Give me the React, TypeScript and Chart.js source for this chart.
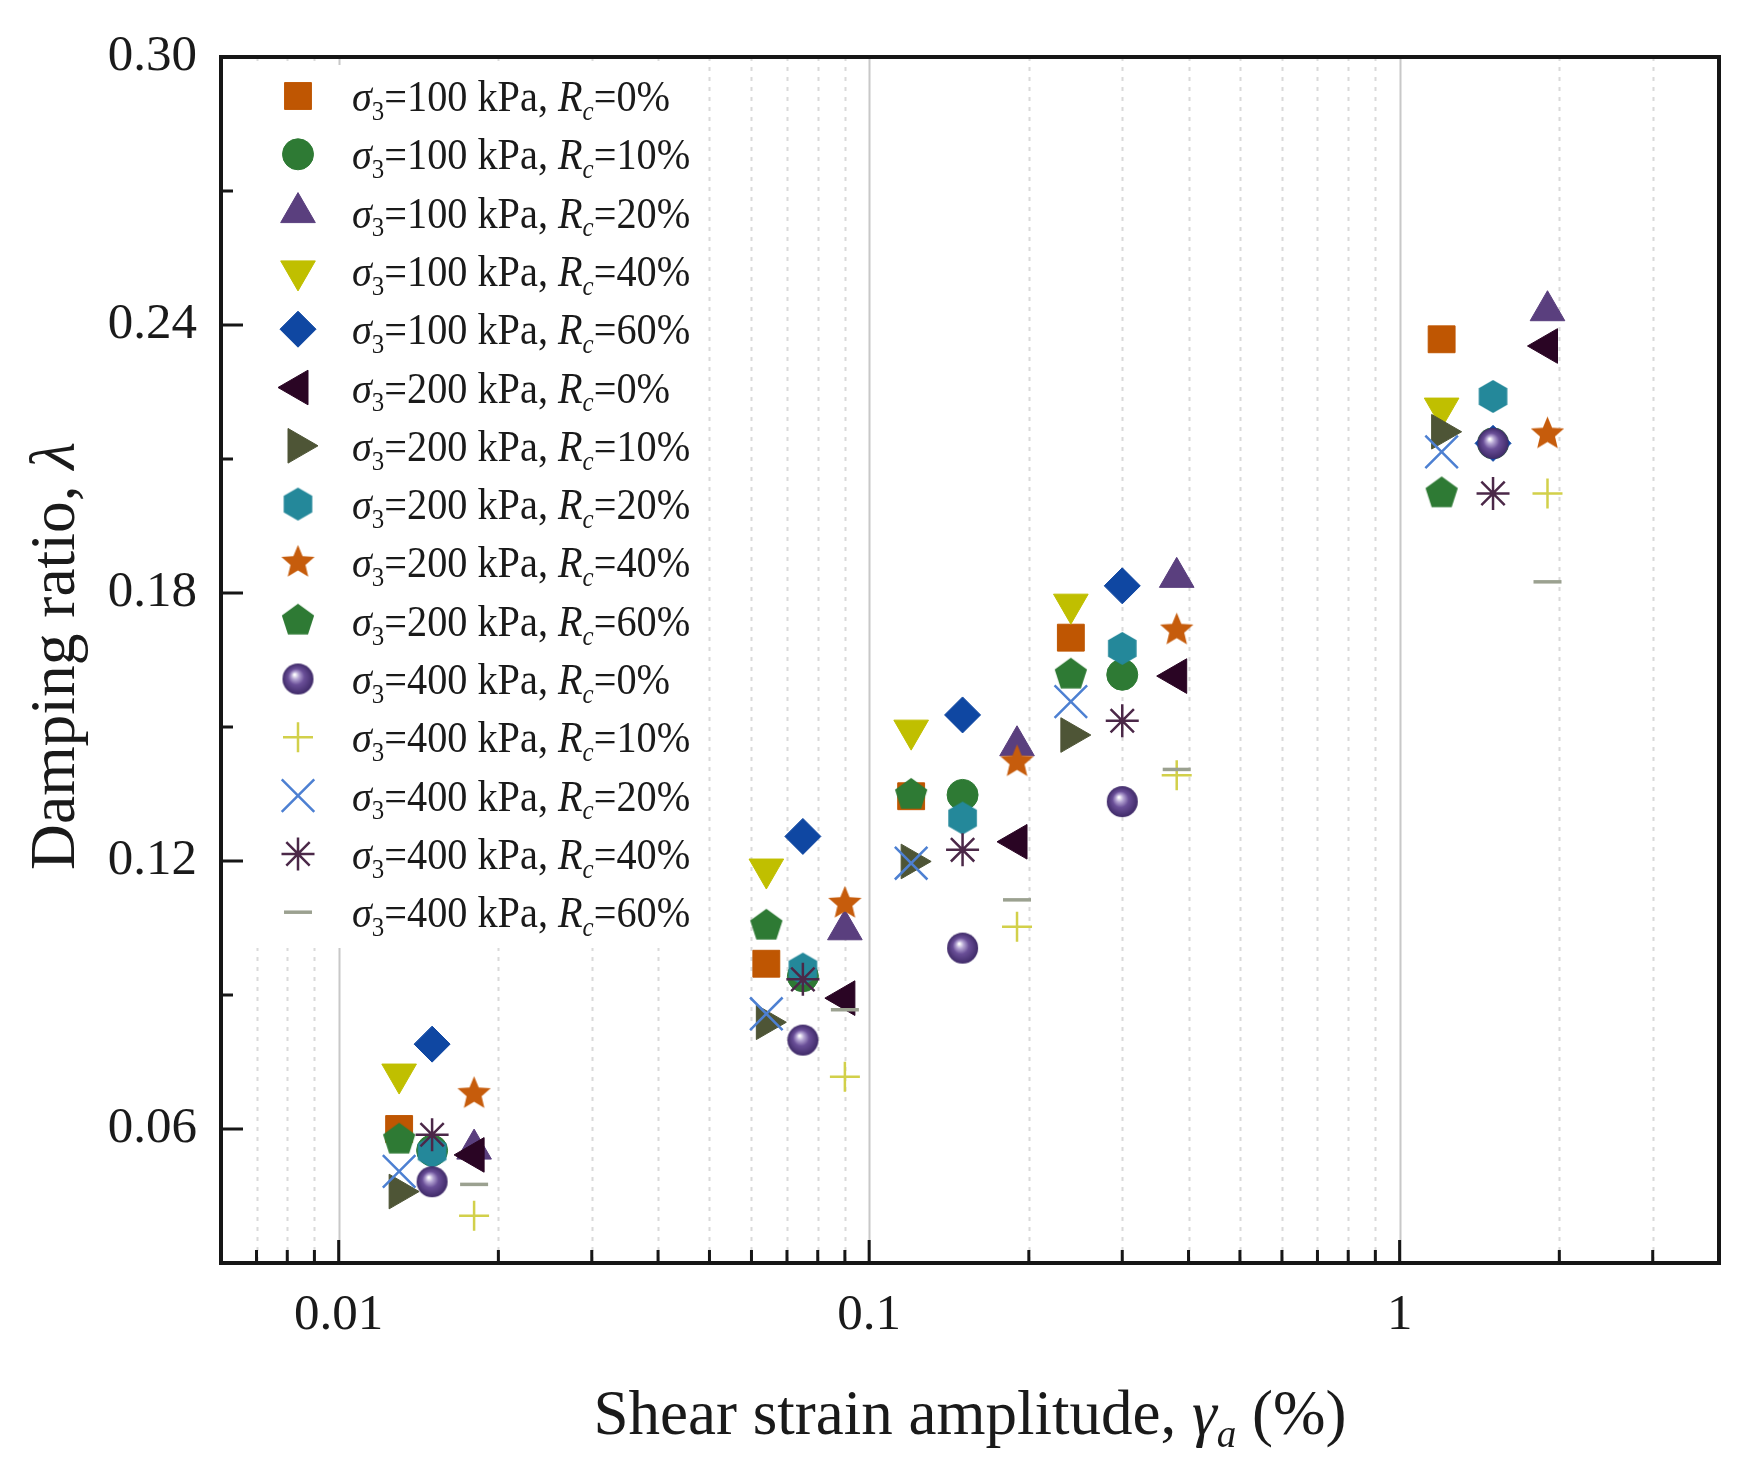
import React, { useEffect, useRef } from 'react';
import { Chart, registerables } from 'chart.js';
import { drawPoint } from 'chart.js/helpers';

Chart.register(...registerables);

const SERIF = '"Liberation Serif", "Times New Roman", serif';

// ---- data (shear strain amplitude, %) ----
const strainColA = [0.013, 0.064, 0.12, 0.24, 1.2];
const strainColB = [0.015, 0.075, 0.15, 0.30, 1.5];
const strainColC = [0.018, 0.090, 0.19, 0.38, 1.9];

// ---- damping ratio per series ----
const damp100_0 = [0.0600, 0.0970, 0.1345, 0.1700, 0.2368];
const damp100_10 = [0.0552, 0.0942, 0.1348, 0.1617, 0.2135];
const damp100_20 = [0.0555, 0.1046, 0.1458, 0.1835, 0.2432];
const damp100_40 = [0.0723, 0.1182, 0.1493, 0.1775, 0.2214];
const damp100_60 = [0.0790, 0.1255, 0.1527, 0.1816, 0.2135];
const damp200_0 = [0.0542, 0.0893, 0.1243, 0.1614, 0.2353];
const damp200_10 = [0.0460, 0.0839, 0.1199, 0.1482, 0.2161];
const damp200_20 = [0.0549, 0.0958, 0.1296, 0.1676, 0.2240];
const damp200_40 = [0.0679, 0.1105, 0.1422, 0.1717, 0.2156];
const damp200_60 = [0.0576, 0.1055, 0.1348, 0.1617, 0.2023];
const damp400_0 = [0.0482, 0.0799, 0.1005, 0.1333, 0.2135];
const damp400_10 = [0.0406, 0.0717, 0.1053, 0.1392, 0.2023];
const damp400_20 = [0.0505, 0.0858, 0.1195, 0.1557, 0.2116];
const damp400_40 = [0.0587, 0.0935, 0.1225, 0.1514, 0.2023];
const damp400_60 = [0.0476, 0.0867, 0.1113, 0.1405, 0.1825];

const sigmaLabels = [100, 100, 100, 100, 100, 200, 200, 200, 200, 200, 400, 400, 400, 400, 400];
const rcLabels = [0, 10, 20, 40, 60, 0, 10, 20, 40, 60, 0, 10, 20, 40, 60];
const seriesStrain = [
  strainColA, strainColB, strainColC, strainColA, strainColB,
  strainColC, strainColA, strainColB, strainColC, strainColA,
  strainColB, strainColC, strainColA, strainColB, strainColC,
];
const seriesDamping = [
  damp100_0, damp100_10, damp100_20, damp100_40, damp100_60,
  damp200_0, damp200_10, damp200_20, damp200_40, damp200_60,
  damp400_0, damp400_10, damp400_20, damp400_40, damp400_60,
];

// ---- axes ----
const xMajorTicks = [0.01, 0.1, 1];
const xMajorLabels = ['0.01', '0.1', '1'];
const xMinorTicks = [0.007, 0.008, 0.009, 0.02, 0.03, 0.04, 0.05, 0.06, 0.07, 0.08, 0.09,
  0.2, 0.3, 0.4, 0.5, 0.6, 0.7, 0.8, 0.9, 2, 3];
const yMajorTicks = [0.06, 0.12, 0.18, 0.24, 0.30];
const yMinorTicks = [0.09, 0.15, 0.21, 0.27];

// ---- marker styles (index-aligned with series) ----
type Marker = { kind: string; color: string; r: number; rot?: number; bw: number };
const markerStyles: Marker[] = [
  { kind: 'rect', color: '#BF5602', r: 19, bw: 1 },
  { kind: 'circle', color: '#2E7A34', r: 15.5, bw: 1 },
  { kind: 'triangle', color: '#5A3F7E', r: 20, bw: 1 },
  { kind: 'triangle', color: '#C0BF00', r: 20, rot: 180, bw: 1 },
  { kind: 'rectRot', color: '#0F47A2', r: 18, bw: 1 },
  { kind: 'triangle', color: '#2A0524', r: 20, rot: 270, bw: 1 },
  { kind: 'triangle', color: '#4E5536', r: 20, rot: 90, bw: 1 },
  { kind: 'hexagon', color: '#24889A', r: 16.5, bw: 0 },
  { kind: 'star5', color: '#C65C0C', r: 17.5, bw: 0 },
  { kind: 'pentagon', color: '#2E7A34', r: 17, bw: 0 },
  { kind: 'sphere', color: '#5A3E86', r: 15.5, bw: 0 },
  { kind: 'cross', color: '#D2D04A', r: 15, bw: 2.5 },
  { kind: 'crossRot', color: '#4D80D2', r: 23, bw: 2.5 },
  { kind: 'star', color: '#4B2848', r: 16.5, bw: 2.5 },
  { kind: 'line', color: '#9BA190', r: 14, bw: 3.5 },
];

function makeImage(m: Marker): HTMLCanvasElement {
  const r = m.r;
  const size = Math.ceil(2 * r + 4);
  const c = document.createElement('canvas');
  c.width = size;
  c.height = size;
  const g = c.getContext('2d')!;
  g.translate(size / 2, size / 2);
  if (m.kind === 'sphere') {
    const grad = g.createRadialGradient(-r * 0.22, -r * 0.28, r * 0.04, 0, 0, r);
    grad.addColorStop(0, '#ffffff');
    grad.addColorStop(0.22, '#b3a3d2');
    grad.addColorStop(0.5, '#6a4f98');
    grad.addColorStop(1, '#3f2a68');
    g.beginPath();
    g.arc(0, 0, r, 0, Math.PI * 2);
    g.fillStyle = grad;
    g.fill();
    return c;
  }
  let n = 6;
  let inner = 1;
  if (m.kind === 'pentagon') n = 5;
  if (m.kind === 'star5') { n = 10; inner = 0.45; }
  g.beginPath();
  for (let k = 0; k < n; k++) {
    const ang = -Math.PI / 2 + (k * 2 * Math.PI) / n;
    const rr = k % 2 === 1 ? r * inner : r;
    const px = Math.cos(ang) * rr;
    const py = Math.sin(ang) * rr;
    if (k === 0) g.moveTo(px, py); else g.lineTo(px, py);
  }
  g.closePath();
  g.fillStyle = m.color;
  g.fill();
  return c;
}

type Part = { t: string; it?: boolean; sub?: boolean };

function measureRich(ctx: CanvasRenderingContext2D, parts: Part[], size: number) {
  let w = 0;
  for (const p of parts) {
    const fs = p.sub ? size * 0.62 : size;
    ctx.font = `${p.it ? 'italic ' : ''}${fs}px ${SERIF}`;
    w += ctx.measureText(p.t).width;
  }
  return w;
}

// draws rich text with its left end at (x, y baseline), optionally condensed horizontally
function drawRich(ctx: CanvasRenderingContext2D, parts: Part[], x: number, y: number, size: number, hScale = 1) {
  ctx.save();
  ctx.translate(x, y);
  ctx.scale(hScale, 1);
  let cx = 0;
  for (const p of parts) {
    const fs = p.sub ? size * 0.62 : size;
    ctx.font = `${p.it ? 'italic ' : ''}${fs}px ${SERIF}`;
    const dy = p.sub ? size * 0.2 : 0;
    ctx.fillText(p.t, cx, dy);
    cx += ctx.measureText(p.t).width;
  }
  ctx.restore();
}

export default function App() {
  const ref = useRef<HTMLCanvasElement | null>(null);

  useEffect(() => {
    document.body.style.margin = '0';
    document.body.style.overflow = 'hidden';
    const canvas = ref.current!;
    const styles = markerStyles.map((m) =>
      ['hexagon', 'pentagon', 'star5', 'sphere'].includes(m.kind) ? makeImage(m) : m.kind
    );

    const datasets = seriesDamping.map((ys, i) => {
      const m = markerStyles[i];
      return {
        label: `σ3=${sigmaLabels[i]} kPa, Rc=${rcLabels[i]}%`,
        data: ys.map((y, k) => ({ x: seriesStrain[i][k], y })),
        pointStyle: styles[i] as any,
        pointRadius: m.r,
        pointRotation: m.rot || 0,
        pointBackgroundColor: m.color,
        pointBorderColor: m.color,
        pointBorderWidth: m.bw,
        showLine: false,
        order: 100 - i,
      };
    });

    const decorPlugin = {
      id: 'decor',
      beforeDatasetsDraw(chart: any) {
        const { ctx, chartArea: a, scales } = chart;
        const xs = scales.x;
        ctx.save();
        // vertical grid lines
        ctx.lineWidth = 2;
        ctx.strokeStyle = '#DADADA';
        ctx.setLineDash([4, 6]);
        for (const v of xMinorTicks) {
          const px = Math.round(xs.getPixelForValue(v)) + 0.5;
          ctx.beginPath();
          ctx.moveTo(px, a.top);
          ctx.lineTo(px, a.bottom);
          ctx.stroke();
        }
        ctx.setLineDash([]);
        ctx.strokeStyle = '#C8C8C8';
        for (const v of xMajorTicks) {
          const px = Math.round(xs.getPixelForValue(v)) + 0.5;
          ctx.beginPath();
          ctx.moveTo(px, a.top);
          ctx.lineTo(px, a.bottom);
          ctx.stroke();
        }
        // legend background
        ctx.fillStyle = '#ffffff';
        ctx.fillRect(a.left, a.top + 8, 480, 883);
        ctx.restore();
      },
      afterDatasetsDraw(chart: any) {
        const { ctx, chartArea: a, scales } = chart;
        const xs = scales.x;
        const ys = scales.y;
        ctx.save();
        // legend
        const F = 44;
        const lx = a.left + 77;
        const tx = a.left + 131;
        const ly0 = a.top + 39;
        const ldy = 58.3;
        for (let i = 0; i < markerStyles.length; i++) {
          const m = markerStyles[i];
          const y = ly0 + i * ldy;
          ctx.save();
          ctx.fillStyle = m.color;
          ctx.strokeStyle = m.color;
          ctx.lineWidth = m.bw;
          drawPoint(ctx, { pointStyle: styles[i] as any, rotation: m.rot || 0, radius: m.r, borderWidth: m.bw } as any, lx, y);
          ctx.restore();
          ctx.fillStyle = '#1a1a1a';
          ctx.textBaseline = 'alphabetic';
          ctx.textAlign = 'left';
          drawRich(ctx, [
            { t: 'σ', it: true },
            { t: '3', sub: true },
            { t: `=${sigmaLabels[i]} kPa, ` },
            { t: 'R', it: true },
            { t: 'c', it: true, sub: true },
            { t: `=${rcLabels[i]}%` },
          ], tx, y + 15, F, 0.915);
        }
        // frame
        ctx.strokeStyle = '#161616';
        ctx.lineWidth = 4;
        ctx.strokeRect(a.left, a.top, a.right - a.left, a.bottom - a.top);
        // ticks (inward)
        ctx.lineWidth = 3;
        ctx.beginPath();
        for (const v of xMajorTicks) {
          const px = xs.getPixelForValue(v);
          ctx.moveTo(px, a.bottom);
          ctx.lineTo(px, a.bottom - 23);
        }
        for (const v of xMinorTicks) {
          const px = xs.getPixelForValue(v);
          ctx.moveTo(px, a.bottom);
          ctx.lineTo(px, a.bottom - 13);
        }
        for (const v of yMajorTicks) {
          const py = ys.getPixelForValue(v);
          ctx.moveTo(a.left, py);
          ctx.lineTo(a.left + 22, py);
        }
        for (const v of yMinorTicks) {
          const py = ys.getPixelForValue(v);
          ctx.moveTo(a.left, py);
          ctx.lineTo(a.left + 12, py);
        }
        ctx.stroke();
        // axis titles
        ctx.fillStyle = '#1a1a1a';
        ctx.textBaseline = 'alphabetic';
        const TX = 63;
        const xParts: Part[] = [
          { t: 'Shear strain amplitude, ' },
          { t: 'γ', it: true },
          { t: 'a', it: true, sub: true },
          { t: ' (%)' },
        ];
        const wx = measureRich(ctx, xParts, TX);
        drawRich(ctx, xParts, (a.left + a.right) / 2 - wx / 2, 1434, TX);
        const TY = 63.5;
        const yParts: Part[] = [{ t: 'Damping ratio, ' }, { t: 'λ', it: true }];
        const wy = measureRich(ctx, yParts, TY);
        ctx.translate(74, (a.top + a.bottom) / 2 - 4);
        ctx.rotate(-Math.PI / 2);
        drawRich(ctx, yParts, -wy / 2, 0, TY);
        ctx.restore();
      },
    };

    const chart = new Chart(canvas, {
      type: 'scatter',
      data: { datasets: datasets as any },
      options: {
        animation: false,
        responsive: false,
        events: [],
        layout: { padding: { top: 57, right: 34, left: 0, bottom: 0 } },
        plugins: { legend: { display: false }, tooltip: { enabled: false }, title: { display: false } },
        scales: {
          x: {
            type: 'logarithmic',
            min: 0.006,
            max: 4,
            grid: { display: false, drawTicks: false },
            border: { display: false },
            afterBuildTicks: (s: any) => { s.ticks = xMajorTicks.map((v) => ({ value: v, major: true })); },
            afterFit: (s: any) => { s.height = 214; },
            ticks: {
              autoSkip: false,
              maxRotation: 0,
              padding: 22,
              color: '#1a1a1a',
              font: { family: SERIF, size: 51 },
              callback: (v: any) => {
                const idx = xMajorTicks.findIndex((t) => Math.abs(t - Number(v)) < 1e-9);
                return idx >= 0 ? xMajorLabels[idx] : '';
              },
            },
          },
          y: {
            type: 'linear',
            min: 0.03,
            max: 0.30,
            grid: { display: false, drawTicks: false },
            border: { display: false },
            afterBuildTicks: (s: any) => { s.ticks = yMajorTicks.map((v) => ({ value: v })); },
            afterFit: (s: any) => { s.width = 221; },
            ticks: {
              autoSkip: false,
              padding: 24,
              color: '#1a1a1a',
              font: { family: SERIF, size: 51 },
              callback: (v: any) => Number(v).toFixed(2),
            },
          },
        },
      },
      plugins: [decorPlugin],
    });
    return () => chart.destroy();
  }, []);

  return (
    <div style={{ position: 'absolute', left: 0, top: 0, width: 1753, height: 1477, background: '#fff' }}>
      <canvas ref={ref} width={1753} height={1477} style={{ width: 1753, height: 1477 }} />
    </div>
  );
}
